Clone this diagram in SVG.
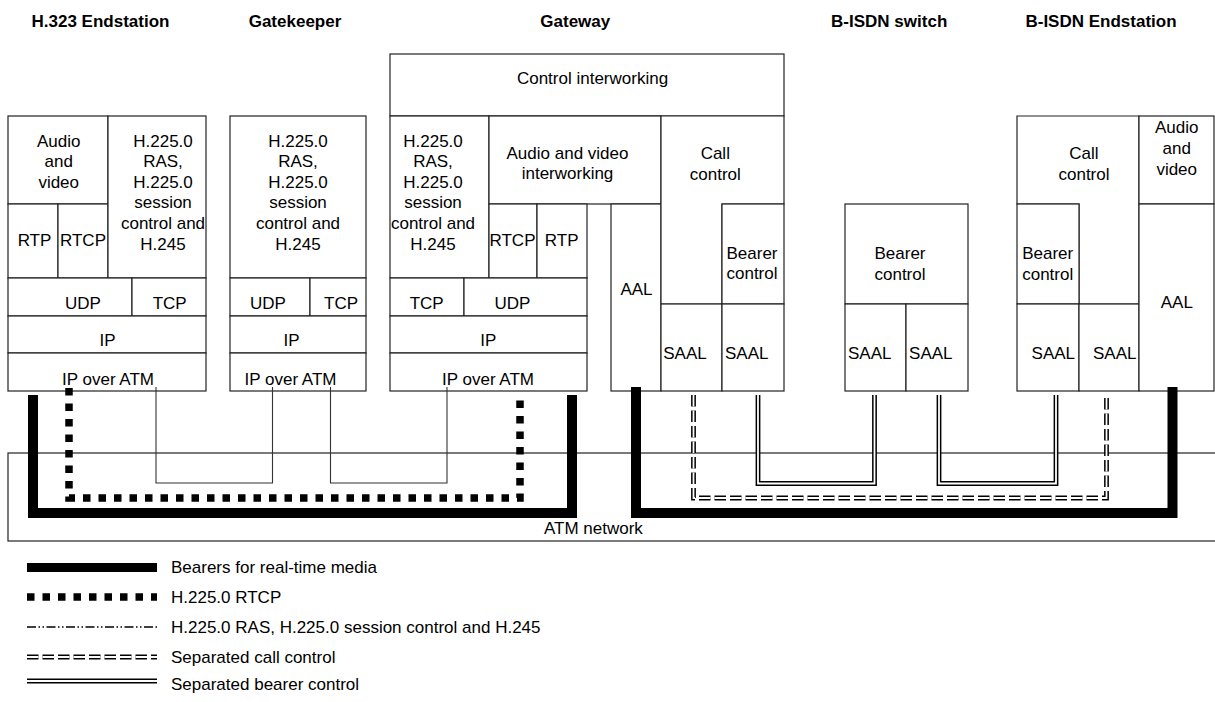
<svg xmlns="http://www.w3.org/2000/svg" width="1215" height="702" viewBox="0 0 1215 702">
<style>
.box{fill:#fff;stroke:#222;stroke-width:1.2}
.frame{fill:none;stroke:#222;stroke-width:1.2}
.t{font-family:"Liberation Sans",Arial,sans-serif;font-size:17px;fill:#000;text-anchor:middle}
.ts{font-family:"Liberation Sans",Arial,sans-serif;font-size:17px;fill:#000}
.h{font-family:"Liberation Sans",Arial,sans-serif;font-size:17px;font-weight:bold;fill:#000;text-anchor:middle}
.bearer{fill:none;stroke:#000;stroke-width:10;stroke-linejoin:miter}
.rtcp{fill:none;stroke:#000;stroke-width:7.5;stroke-dasharray:7.5 8}
.ras{fill:none;stroke:#333;stroke-width:1.1}
.dashdot{fill:none;stroke:#000;stroke-width:1.4;stroke-dasharray:9 2.5 1.5 2.5 1.5 2.5}
.dblo{fill:none;stroke:#000;stroke-width:4.8}
.dbli{fill:none;stroke:#fff;stroke-width:1.8}
.dd{stroke-dasharray:11.5 4}
</style>

<g id="headers">
<text class="h" x="100.5" y="27">H.323 Endstation</text>
<text class="h" x="295" y="27">Gatekeeper</text>
<text class="h" x="575.3" y="27">Gateway</text>
<text class="h" x="889.2" y="27">B-ISDN switch</text>
<text class="h" x="1101" y="27">B-ISDN Endstation</text>
</g>

<g id="atm-network">
<rect class="frame" x="8" y="453" width="1215" height="88"/>
<text class="ts" x="544" y="534">ATM network</text>
</g>

<g id="h323-endstation">
<rect class="box" x="8" y="116" width="100" height="88"/>
<rect class="box" x="8" y="204" width="50" height="74"/>
<rect class="box" x="58" y="204" width="50" height="74"/>
<rect class="box" x="108" y="116" width="98" height="162"/>
<rect class="box" x="8" y="278" width="124" height="38"/>
<rect class="box" x="132" y="278" width="74" height="38"/>
<rect class="box" x="8" y="316" width="198" height="37"/>
<rect class="box" x="8" y="353" width="198" height="38"/>
<text class="t" y="146.5"><tspan x="58.7">Audio</tspan><tspan x="58.7" dy="20.6">and</tspan><tspan x="58.7" dy="20.6">video</tspan></text>
<text class="t" y="146.5"><tspan x="163">H.225.0</tspan><tspan x="163" dy="20.6">RAS,</tspan><tspan x="163" dy="20.6">H.225.0</tspan><tspan x="163" dy="20.6">session</tspan><tspan x="163" dy="20.6">control and</tspan><tspan x="163" dy="20.6">H.245</tspan></text>
<text class="t" x="34.5" y="246">RTP</text>
<text class="t" x="83" y="246">RTCP</text>
<text class="t" x="83" y="309">UDP</text>
<text class="t" x="169.7" y="309">TCP</text>
<text class="t" x="107.5" y="345.5">IP</text>
<text class="t" x="108" y="385">IP over ATM</text>
</g>

<g id="gatekeeper">
<rect class="box" x="230" y="116" width="136" height="162"/>
<rect class="box" x="230" y="278" width="80" height="38"/>
<rect class="box" x="310" y="278" width="56" height="38"/>
<rect class="box" x="230" y="316" width="136" height="37"/>
<rect class="box" x="230" y="353" width="136" height="38"/>
<text class="t" y="146.5"><tspan x="298">H.225.0</tspan><tspan x="298" dy="20.6">RAS,</tspan><tspan x="298" dy="20.6">H.225.0</tspan><tspan x="298" dy="20.6">session</tspan><tspan x="298" dy="20.6">control and</tspan><tspan x="298" dy="20.6">H.245</tspan></text>
<text class="t" x="268" y="309">UDP</text>
<text class="t" x="341" y="309">TCP</text>
<text class="t" x="291.5" y="345.5">IP</text>
<text class="t" x="290.5" y="385">IP over ATM</text>
</g>

<g id="gateway">
<rect class="box" x="390" y="54" width="394" height="62"/>
<rect class="box" x="390" y="116" width="99" height="162"/>
<rect class="box" x="489" y="116" width="172" height="88"/>
<rect class="box" x="489" y="204" width="48" height="74"/>
<rect class="box" x="537" y="204" width="50" height="74"/>
<rect class="box" x="390" y="278" width="74" height="38"/>
<rect class="box" x="464" y="278" width="123" height="38"/>
<rect class="box" x="390" y="316" width="197" height="37"/>
<rect class="box" x="390" y="353" width="197" height="38"/>
<rect class="box" x="611" y="204" width="50" height="187"/>
<path class="box" d="M661 116H784V204H722V304H661Z"/>
<rect class="box" x="722" y="204" width="62" height="100"/>
<rect class="box" x="661" y="304" width="61" height="87"/>
<rect class="box" x="722" y="304" width="62" height="87"/>
<text class="t" x="592.5" y="83.5">Control interworking</text>
<text class="t" y="146.5"><tspan x="433">H.225.0</tspan><tspan x="433" dy="20.6">RAS,</tspan><tspan x="433" dy="20.6">H.225.0</tspan><tspan x="433" dy="20.6">session</tspan><tspan x="433" dy="20.6">control and</tspan><tspan x="433" dy="20.6">H.245</tspan></text>
<text class="t" y="158.5"><tspan x="567.5">Audio and video</tspan><tspan x="567.5" dy="20.6">interworking</tspan></text>
<text class="t" x="512.5" y="246">RTCP</text>
<text class="t" x="561.7" y="246">RTP</text>
<text class="t" x="426.7" y="309">TCP</text>
<text class="t" x="512.5" y="309">UDP</text>
<text class="t" x="488.3" y="345.5">IP</text>
<text class="t" x="488" y="385">IP over ATM</text>
<text class="t" x="636.5" y="295">AAL</text>
<text class="t" y="159"><tspan x="715.3">Call</tspan><tspan x="715.3" dy="20.6">control</tspan></text>
<text class="t" y="258.5"><tspan x="752">Bearer</tspan><tspan x="752" dy="20.6">control</tspan></text>
<text class="t" x="685" y="358.5">SAAL</text>
<text class="t" x="746.7" y="358.5">SAAL</text>
</g>

<g id="bisdn-switch">
<rect class="box" x="845" y="204" width="123" height="100"/>
<rect class="box" x="845" y="304" width="61" height="87"/>
<rect class="box" x="906" y="304" width="62" height="87"/>
<text class="t" y="259.3"><tspan x="900">Bearer</tspan><tspan x="900" dy="20.6">control</tspan></text>
<text class="t" x="869.7" y="359.3">SAAL</text>
<text class="t" x="930.8" y="359.3">SAAL</text>
</g>

<g id="bisdn-endstation">
<path class="box" d="M1017 116H1139V304H1079V204H1017Z"/>
<rect class="box" x="1017" y="204" width="62" height="100"/>
<rect class="box" x="1017" y="304" width="62" height="87"/>
<rect class="box" x="1079" y="304" width="60" height="87"/>
<rect class="box" x="1139" y="116" width="75" height="88"/>
<rect class="box" x="1139" y="204" width="75" height="187"/>
<text class="t" y="159.3"><tspan x="1084">Call</tspan><tspan x="1084" dy="20.6">control</tspan></text>
<text class="t" y="259.3"><tspan x="1047.7">Bearer</tspan><tspan x="1047.7" dy="20.6">control</tspan></text>
<text class="t" x="1053.3" y="359.3">SAAL</text>
<text class="t" x="1114.7" y="359.3">SAAL</text>
<text class="t" y="133.3"><tspan x="1176.7">Audio</tspan><tspan x="1176.7" dy="20.6">and</tspan><tspan x="1176.7" dy="20.6">video</tspan></text>
<text class="t" x="1176.8" y="308.3">AAL</text>
</g>

<g id="connectors">
<path class="ras" d="M156 387V483H272.5V387"/>
<path class="ras" d="M330.5 387V483H447V387"/>
<path class="dblo" d="M758 395V483.5H874.5V395"/>
<path class="dbli" d="M758 395V483.5H874.5V395"/>
<path class="dblo" d="M939 395V483.5H1056V395"/>
<path class="dbli" d="M939 395V483.5H1056V395"/>
<path class="dblo dd" d="M693.5 395V498H1106.5V395"/>
<path class="dbli dd" d="M693.5 395V498H1106.5V395"/>
<path class="rtcp" d="M69 388V498H520V395"/>
<path class="bearer" d="M33 395V513H572V395"/>
<path class="bearer" d="M636 387V513H1172.5V387"/>
</g>

<g id="legend">
<rect x="27" y="563" width="130" height="9" fill="#000"/>
<text class="ts" x="171" y="573">Bearers for real-time media</text>
<line class="rtcp" x1="27" y1="597" x2="157" y2="597"/>
<text class="ts" x="171" y="603">H.225.0 RTCP</text>
<line class="dashdot" x1="27" y1="627" x2="157" y2="627"/>
<text class="ts" x="171" y="633">H.225.0 RAS, H.225.0 session control and H.245</text>
<line class="dblo dd" x1="27" y1="657" x2="157" y2="657"/>
<line class="dbli dd" x1="27" y1="657" x2="157" y2="657"/>
<text class="ts" x="171" y="663">Separated call control</text>
<line class="dblo" x1="27" y1="681" x2="157" y2="681"/>
<line class="dbli" x1="27" y1="681" x2="157" y2="681"/>
<text class="ts" x="171" y="690">Separated bearer control</text>
</g>
</svg>
